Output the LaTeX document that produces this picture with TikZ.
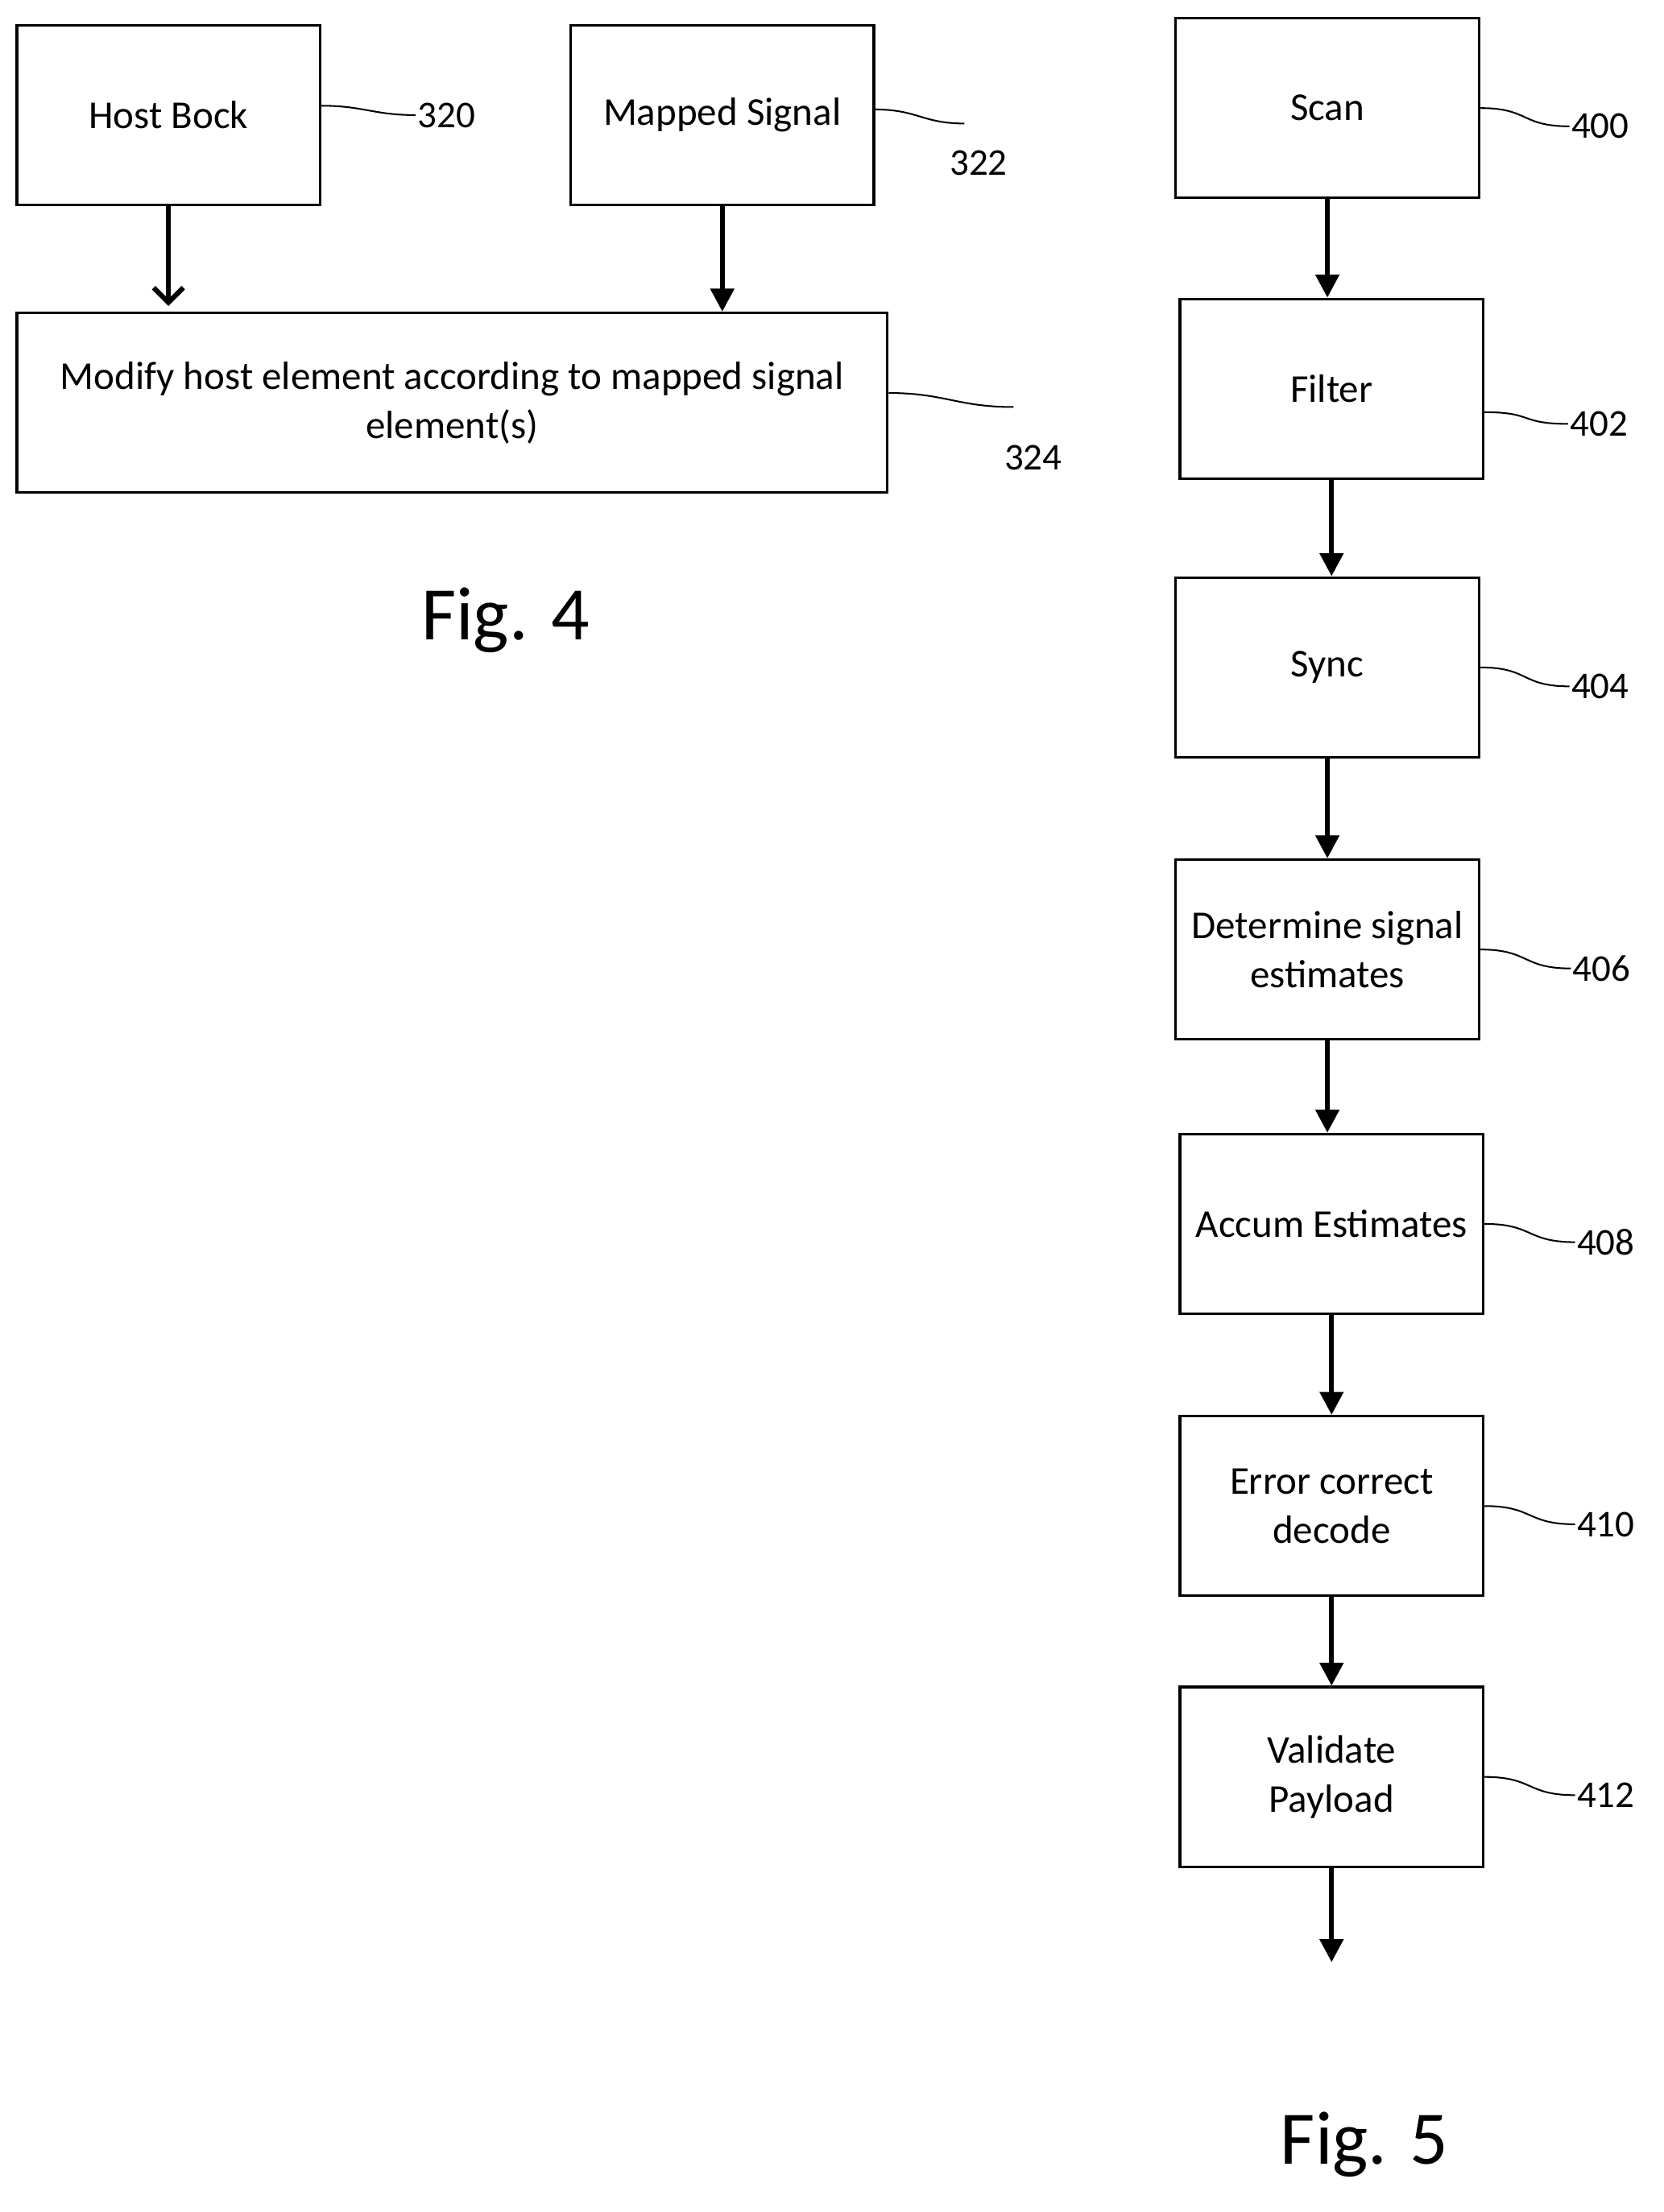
\documentclass[tikz,border=0pt]{standalone}
\usepackage{fontspec}
\setmainfont{Carlito}
\usetikzlibrary{arrows.meta}
\tikzset{
	x=0.03cm, y=-0.03cm,
	blk/.style={draw, line width=1.6pt, minimum width=6.48cm, minimum height=3.84cm, align=center, font=\fontsize{24}{30}\selectfont},
	flow/.style={line width=3pt, -{Triangle[length=14pt,width=14pt]}},
	lead/.style={line width=1pt},
	ref/.style={font=\fontsize{23}{27}\selectfont, inner sep=1pt},
	figlab/.style={font=\fontsize{46}{52}\selectfont}}
\begin{document}
\begin{tikzpicture}
	\useasboundingbox (0,0) rectangle (1185,1576);
	%Fig. 4
	\node[blk] (host) at (120,82) {Host Bock};
	\node[blk] (mapped) at (514.5,82) {Mapped Signal};
	\node[blk, minimum width=18.6cm] (modify) at (322,287) {Modify host element according to mapped signal\\element(s)};
	\node[ref, anchor=west] (l320) at (296,82) {320};
	\coordinate (e322) at (687,88);
	\node[ref, anchor=north] (l322) at (697,106) {322};
	\coordinate (e324) at (722,290);
	\node[ref, anchor=north] (l324) at (736,316) {324};
	\draw[line width=3pt, -{Straight Barb[length=9pt,width=18pt]}] (host) -- (120,218);
	\draw[flow] (mapped) -- (modify.north -| mapped);
	\draw[lead] ([yshift=0.2cm]host.east) .. controls +(30,0) and +(-30,0) .. (l320.west);
	\draw[lead] ([yshift=0.12cm]mapped.east) .. controls +(30,0) and +(-30,0) .. (e322);
	\draw[lead] ([yshift=0.21cm]modify.east) .. controls +(40,0) and +(-40,0) .. (e324);
	\node[figlab] (fig4) at (360,442) {Fig. 4};

	%Fig. 5
	\node[blk] (scan) at (945.5,77) {Scan};
	\node[blk] (filter) at (948.5,277) {Filter};
	\node[blk] (sync) at (945.5,475.5) {Sync};
	\node[blk] (det) at (945.5,676.5) {Determine signal\\estimates};
	\node[blk] (accum) at (948.5,872) {Accum Estimates};
	\node[blk] (err) at (948.5,1073) {Error correct\\decode};
	\node[blk] (valid) at (948.5,1266) {Validate\\Payload};
	\coordinate (out) at (948.5,1398);
	\node[ref, anchor=west] (l400) at (1118,90) {400};
	\node[ref, anchor=west] (l402) at (1117,302) {402};
	\node[ref, anchor=west] (l404) at (1118,489) {404};
	\node[ref, anchor=west] (l406) at (1119,690) {406};
	\node[ref, anchor=west] (l408) at (1122,885) {408};
	\node[ref, anchor=west] (l410) at (1122,1086) {410};
	\node[ref, anchor=west] (l412) at (1122,1279) {412};
	\foreach \b/\l in {scan/l400, sync/l404, det/l406, accum/l408, err/l410, valid/l412}
		\draw[lead] (\b.east) .. controls +(35,0) and +(-35,0) .. (\l.west);
	\draw[lead] ([yshift=-0.5cm]filter.east) .. controls +(35,0) and +(-35,0) .. (l402.west);
	\draw[flow] (scan) -- (scan.south |- filter.north);
	\draw[flow] (filter) -- (filter.south |- sync.north);
	\draw[flow] (sync) -- (sync.south |- det.north);
	\draw[flow] (det) -- (det.south |- accum.north);
	\draw[flow] (accum) -- (err);
	\draw[flow] (err) -- (valid);
	\draw[flow] (valid) -- (out);
	\node[figlab] (fig5) at (972,1528) {Fig. 5};
\end{tikzpicture}
\end{document}
